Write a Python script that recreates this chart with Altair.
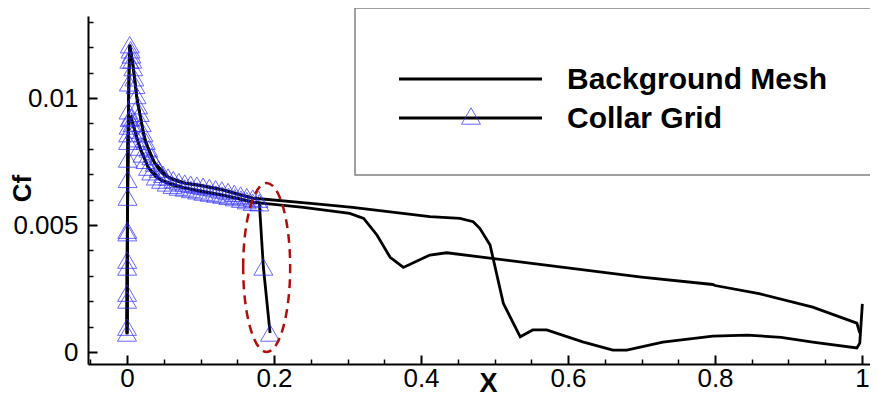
import altair as alt
import pandas as pd

# ---------------- data ----------------
# Background mesh, branch through the 0.012 peak (drops near x=0.5)
bg_a_x = [0.0, 0.0005, 0.0015, 0.0025, 0.0037, 0.0085, 0.0130, 0.0173, 0.0241, 0.0377,
          0.0558, 0.0785, 0.099, 0.130, 0.171, 0.250, 0.307, 0.412, 0.453, 0.471,
          0.480, 0.494, 0.512, 0.535, 0.552, 0.571, 0.620, 0.661, 0.680, 0.729,
          0.797, 0.844, 0.890, 0.933, 0.993, 0.997, 1.0005]
bg_a_y = [0.0007, 0.0045, 0.0086, 0.0106, 0.0121, 0.0112, 0.0101, 0.0094, 0.00835, 0.00744,
          0.00689, 0.00665, 0.00657, 0.0064, 0.00606, 0.00585, 0.0057, 0.00533, 0.00526, 0.00513,
          0.00487, 0.00421, 0.00192, 0.0006, 0.00087, 0.00087, 0.0004, 0.00008, 0.00008, 0.00039,
          0.00063, 0.00067, 0.00058, 0.00039, 0.00016, 0.00035, 0.0019]

# Background mesh, branch through the 0.0093 peak (dip near x=0.37)
bg_b_x = [0.0, 0.0005, 0.0014, 0.0030, 0.0054, 0.0105, 0.0173, 0.0286, 0.0463, 0.0785,
          0.127, 0.171, 0.240, 0.303, 0.322, 0.340, 0.358, 0.376, 0.412, 0.435,
          0.480, 0.548, 0.700, 0.797, 0.800, 0.860, 0.933, 0.993, 0.997]
bg_b_y = [0.0007, 0.0040, 0.0083, 0.0092, 0.00925, 0.00874, 0.00807, 0.00728, 0.00677, 0.00646,
          0.0062, 0.0059, 0.0057, 0.00546, 0.00526, 0.00461, 0.00373, 0.00333, 0.00382, 0.00391,
          0.00375, 0.0035, 0.00295, 0.00266, 0.00262, 0.0023, 0.00177, 0.00114, 0.00075]

# Collar grid, outer branch
collar_a_x = [0.0000, 0.0001, 0.0002, 0.0004, 0.0007, 0.0011, 0.0015, 0.0020, 0.0025, 0.0031,
              0.0037, 0.0048, 0.0060, 0.0072, 0.0085, 0.0100, 0.0115, 0.0130, 0.0150, 0.0173,
              0.0200, 0.0225, 0.0255, 0.0290, 0.0330, 0.0377, 0.0430, 0.0490, 0.0558, 0.0630,
              0.0705, 0.0785, 0.0865, 0.0950, 0.1035, 0.1120, 0.1205, 0.1290, 0.1375, 0.1460,
              0.1545, 0.1630, 0.1710, 0.1790]
collar_a_y = [0.00098, 0.00232, 0.00362, 0.0048, 0.0061, 0.0076, 0.0086, 0.0095, 0.0106, 0.0115,
              0.0121, 0.0119, 0.0117, 0.0115, 0.0112, 0.0108, 0.0105, 0.0101, 0.0097, 0.0094,
              0.0090, 0.0086, 0.0083, 0.0080, 0.0077, 0.00744, 0.0072, 0.0070, 0.00689, 0.00679,
              0.00671, 0.00665, 0.00661, 0.00657, 0.00653, 0.00648, 0.00643, 0.00638, 0.00632, 0.00625,
              0.00618, 0.00612, 0.00606, 0.00602]

# Collar grid, inner branch (ends with the drop inside the red ellipse)
collar_b_x = [0.0000, 0.0001, 0.0002, 0.0004, 0.0008, 0.0014, 0.0022, 0.0035, 0.0054, 0.0075,
              0.0105, 0.0135, 0.0173, 0.0210, 0.0250, 0.0286, 0.0330, 0.0390, 0.0463, 0.0540,
              0.0620, 0.0700, 0.0785, 0.0870, 0.0955, 0.1040, 0.1125, 0.1210, 0.1295, 0.1380,
              0.1465, 0.1550, 0.1630, 0.1710, 0.1800, 0.1855, 0.1946]
collar_b_y = [0.00075, 0.00205, 0.00335, 0.0047, 0.0068, 0.0083, 0.0089, 0.0092, 0.00925, 0.0090,
              0.00874, 0.0084, 0.00807, 0.0078, 0.00755, 0.00728, 0.0071, 0.0069, 0.00677, 0.00666,
              0.00657, 0.0065, 0.00646, 0.0064, 0.00635, 0.0063, 0.00626, 0.00622, 0.00618, 0.00613,
              0.00608, 0.00602, 0.00596, 0.0059, 0.00588, 0.00335, 0.00075]

# highlighted region (centre of the dashed ellipse)
highlight_x = [0.190]
highlight_y = [0.00333]

x_major = [0, 0.2, 0.4, 0.6, 0.8, 1]
x_minor = [-0.05, 0.05, 0.1, 0.15, 0.25, 0.3, 0.35, 0.45, 0.5, 0.55, 0.65, 0.7, 0.75, 0.85, 0.9, 0.95]
y_major = [0, 0.005, 0.01]
y_minor = [0.001, 0.002, 0.003, 0.004, 0.006, 0.007, 0.008, 0.009, 0.011, 0.012, 0.013]
legend_labels = ["Background Mesh", "Collar Grid"]

# ---------------- build tables ----------------
def frame(series, branch, xs, ys):
    return pd.DataFrame({"series": series, "branch": branch,
                         "i": list(range(len(xs))), "x": xs, "y": ys})

bg = pd.concat([frame("Background Mesh", "a", bg_a_x, bg_a_y),
                frame("Background Mesh", "b", bg_b_x, bg_b_y)], ignore_index=True)
collar = pd.concat([frame("Collar Grid", "a", collar_a_x, collar_a_y),
                    frame("Collar Grid", "b", collar_b_x, collar_b_y)], ignore_index=True)
hl = pd.DataFrame({"x": highlight_x, "y": highlight_y})
one = pd.DataFrame({"k": [0]})

FONT = "Liberation Sans"
W, H = 782, 348
xs = alt.Scale(domain=[-0.0531, 1.0109], nice=False, zero=False)
ys = alt.Scale(domain=[-0.00047, 0.01323], nice=False, zero=False)

# axes: labels + domain line
ax_x_lab = alt.Axis(orient="bottom", values=x_major, format="~g", ticks=False, domain=True,
                    domainColor="black", domainWidth=2, grid=False, labelFont=FONT,
                    labelFontSize=26, labelColor="black", labelPadding=1, labelFlush=False,
                    title="X", titleFont=FONT, titleFontSize=27, titleFontWeight="bold",
                    titleColor="black", titleX=400, titleY=19, titleAlign="center",
                    titleBaseline="middle")
ax_y_lab = alt.Axis(orient="left", values=y_major, format="~g", ticks=False, domain=True,
                    domainColor="black", domainWidth=2, grid=False, labelFont=FONT,
                    labelFontSize=26, labelColor="black", labelPadding=10, labelFlush=False,
                    title="Cf", titleFont=FONT, titleFontSize=26, titleFontWeight="bold",
                    titleColor="black", titleAngle=270, titleX=-66, titleY=172,
                    titleAlign="center", titleBaseline="middle")
# axes: inward major ticks
ax_x_maj = alt.Axis(orient="bottom", values=x_major, labels=False, domain=False, grid=False,
                    ticks=True, tickSize=9, tickWidth=2, tickColor="black", offset=-9, title=None)
ax_y_maj = alt.Axis(orient="left", values=y_major, labels=False, domain=False, grid=False,
                    ticks=True, tickSize=9, tickWidth=2, tickColor="black", offset=-9, title=None)
# axes: inward minor ticks
ax_x_min = alt.Axis(orient="bottom", values=x_minor, labels=False, domain=False, grid=False,
                    ticks=True, tickSize=5, tickWidth=1.5, tickColor="black", offset=-5, title=None)
ax_y_min = alt.Axis(orient="left", values=y_minor, labels=False, domain=False, grid=False,
                    ticks=True, tickSize=5, tickWidth=1.5, tickColor="black", offset=-5, title=None)

bg_lines = alt.Chart(bg).mark_line(color="black", strokeWidth=2.8).encode(
    x=alt.X("x:Q", scale=xs, axis=ax_x_lab),
    y=alt.Y("y:Q", scale=ys, axis=ax_y_lab),
    detail="branch:N", order="i:Q")

collar_lines = alt.Chart(collar).mark_line(color="black", strokeWidth=2.8).encode(
    x=alt.X("x:Q", scale=xs, axis=ax_x_maj),
    y=alt.Y("y:Q", scale=ys, axis=ax_y_maj),
    detail="branch:N", order="i:Q")

collar_pts = alt.Chart(collar).mark_point(shape="triangle-up", filled=False, size=360,
                                          color="#2a2aff", strokeWidth=1, opacity=0.7).encode(
    x=alt.X("x:Q", scale=xs, axis=ax_x_min),
    y=alt.Y("y:Q", scale=ys, axis=ax_y_min))

ellipse = alt.Chart(hl).mark_point(
    shape="M-0.278,0A0.278,1,0,1,1,0.278,0A0.278,1,0,1,1,-0.278,0Z",
    size=28561, filled=False, color="#b00d0d", strokeWidth=2.5, strokeDash=[9, 6],
    opacity=1).encode(
    x=alt.X("x:Q", scale=xs, axis=None),
    y=alt.Y("y:Q", scale=ys, axis=None))

# legend drawn by hand (box, samples, labels)
leg_box = alt.Chart(one).mark_rect(fill="white", stroke="#808080", strokeWidth=1.5).encode(
    x=alt.value(267), x2=alt.value(800), y=alt.value(-8), y2=alt.value(159))
leg_line1 = alt.Chart(one).mark_rule(color="black", strokeWidth=3).encode(
    x=alt.value(311), x2=alt.value(454), y=alt.value(63))
leg_line2 = alt.Chart(one).mark_rule(color="black", strokeWidth=3).encode(
    x=alt.value(311), x2=alt.value(454), y=alt.value(102))
leg_tri = alt.Chart(one).mark_point(shape="triangle-up", filled=False, size=360,
                                    color="#2a2aff", strokeWidth=1, opacity=0.7).encode(
    x=alt.value(383), y=alt.value(100))
leg_txt1 = alt.Chart(one).mark_text(text=legend_labels[0], font=FONT, fontSize=30,
                                    fontWeight="bold", align="left", baseline="middle",
                                    color="black").encode(x=alt.value(479), y=alt.value(64))
leg_txt2 = alt.Chart(one).mark_text(text=legend_labels[1], font=FONT, fontSize=30,
                                    fontWeight="bold", align="left", baseline="middle",
                                    color="black").encode(x=alt.value(479), y=alt.value(103))

chart = alt.layer(
    bg_lines, collar_lines, collar_pts, ellipse,
    leg_box, leg_line1, leg_line2, leg_tri, leg_txt1, leg_txt2
).resolve_axis(x="independent", y="independent").properties(
    width=W, height=H,
    autosize=alt.AutoSizeParams(type="none"),
    padding={"left": 80, "top": 8, "right": 0, "bottom": 35},
    background="white",
).configure_view(stroke=None)

chart.save("out.html", embed_options={"renderer": "svg", "actions": False})
